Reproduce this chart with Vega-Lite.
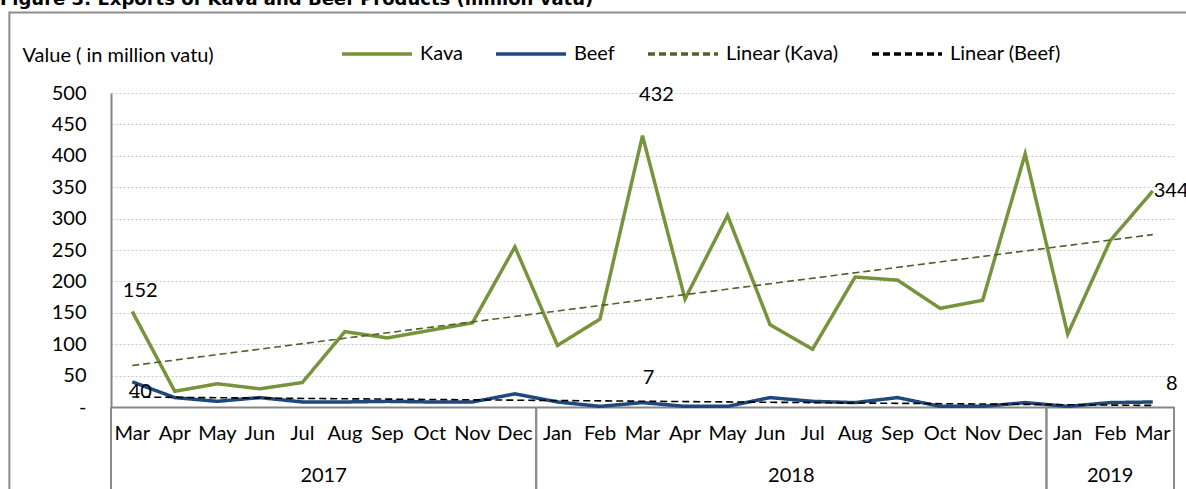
{
  "$schema": "https://vega.github.io/schema/vega-lite/v6.json",
  "autosize": "none",
  "width": 1063,
  "height": 314,
  "padding": {"left": 111, "top": 93, "right": 12, "bottom": 82},
  "background": "white",
  "title": {"text": "Figure 3: Exports of Kava and Beef Products (million vatu)", "anchor": "start", "frame": "group", "font": "DejaVu Sans", "fontWeight": "bold", "fontSize": 18, "color": "black", "dx": -111, "dy": 15, "baseline": "alphabetic"},
  "datasets": {
    "kv": [
      {"i": 0, "m": "Mar", "yr": "2017", "s": "Kava", "t": "Linear (Kava)", "v": 152},
      {"i": 1, "m": "Apr", "yr": "2017", "s": "Kava", "t": "Linear (Kava)", "v": 25},
      {"i": 2, "m": "May", "yr": "2017", "s": "Kava", "t": "Linear (Kava)", "v": 37},
      {"i": 3, "m": "Jun", "yr": "2017", "s": "Kava", "t": "Linear (Kava)", "v": 29},
      {"i": 4, "m": "Jul", "yr": "2017", "s": "Kava", "t": "Linear (Kava)", "v": 39},
      {"i": 5, "m": "Aug", "yr": "2017", "s": "Kava", "t": "Linear (Kava)", "v": 120},
      {"i": 6, "m": "Sep", "yr": "2017", "s": "Kava", "t": "Linear (Kava)", "v": 110},
      {"i": 7, "m": "Oct", "yr": "2017", "s": "Kava", "t": "Linear (Kava)", "v": 122},
      {"i": 8, "m": "Nov", "yr": "2017", "s": "Kava", "t": "Linear (Kava)", "v": 134},
      {"i": 9, "m": "Dec", "yr": "2017", "s": "Kava", "t": "Linear (Kava)", "v": 255},
      {"i": 10, "m": "Jan", "yr": "2018", "s": "Kava", "t": "Linear (Kava)", "v": 98},
      {"i": 11, "m": "Feb", "yr": "2018", "s": "Kava", "t": "Linear (Kava)", "v": 140},
      {"i": 12, "m": "Mar", "yr": "2018", "s": "Kava", "t": "Linear (Kava)", "v": 432},
      {"i": 13, "m": "Apr", "yr": "2018", "s": "Kava", "t": "Linear (Kava)", "v": 172},
      {"i": 14, "m": "May", "yr": "2018", "s": "Kava", "t": "Linear (Kava)", "v": 305},
      {"i": 15, "m": "Jun", "yr": "2018", "s": "Kava", "t": "Linear (Kava)", "v": 131},
      {"i": 16, "m": "Jul", "yr": "2018", "s": "Kava", "t": "Linear (Kava)", "v": 92},
      {"i": 17, "m": "Aug", "yr": "2018", "s": "Kava", "t": "Linear (Kava)", "v": 207},
      {"i": 18, "m": "Sep", "yr": "2018", "s": "Kava", "t": "Linear (Kava)", "v": 202},
      {"i": 19, "m": "Oct", "yr": "2018", "s": "Kava", "t": "Linear (Kava)", "v": 157},
      {"i": 20, "m": "Nov", "yr": "2018", "s": "Kava", "t": "Linear (Kava)", "v": 170},
      {"i": 21, "m": "Dec", "yr": "2018", "s": "Kava", "t": "Linear (Kava)", "v": 403},
      {"i": 22, "m": "Jan", "yr": "2019", "s": "Kava", "t": "Linear (Kava)", "v": 116},
      {"i": 23, "m": "Feb", "yr": "2019", "s": "Kava", "t": "Linear (Kava)", "v": 265},
      {"i": 24, "m": "Mar", "yr": "2019", "s": "Kava", "t": "Linear (Kava)", "v": 344},
      {"i": 0, "m": "Mar", "yr": "2017", "s": "Beef", "t": "Linear (Beef)", "v": 40},
      {"i": 1, "m": "Apr", "yr": "2017", "s": "Beef", "t": "Linear (Beef)", "v": 15},
      {"i": 2, "m": "May", "yr": "2017", "s": "Beef", "t": "Linear (Beef)", "v": 9},
      {"i": 3, "m": "Jun", "yr": "2017", "s": "Beef", "t": "Linear (Beef)", "v": 15},
      {"i": 4, "m": "Jul", "yr": "2017", "s": "Beef", "t": "Linear (Beef)", "v": 8},
      {"i": 5, "m": "Aug", "yr": "2017", "s": "Beef", "t": "Linear (Beef)", "v": 8},
      {"i": 6, "m": "Sep", "yr": "2017", "s": "Beef", "t": "Linear (Beef)", "v": 9},
      {"i": 7, "m": "Oct", "yr": "2017", "s": "Beef", "t": "Linear (Beef)", "v": 8},
      {"i": 8, "m": "Nov", "yr": "2017", "s": "Beef", "t": "Linear (Beef)", "v": 8},
      {"i": 9, "m": "Dec", "yr": "2017", "s": "Beef", "t": "Linear (Beef)", "v": 21},
      {"i": 10, "m": "Jan", "yr": "2018", "s": "Beef", "t": "Linear (Beef)", "v": 8},
      {"i": 11, "m": "Feb", "yr": "2018", "s": "Beef", "t": "Linear (Beef)", "v": 1},
      {"i": 12, "m": "Mar", "yr": "2018", "s": "Beef", "t": "Linear (Beef)", "v": 7},
      {"i": 13, "m": "Apr", "yr": "2018", "s": "Beef", "t": "Linear (Beef)", "v": 1},
      {"i": 14, "m": "May", "yr": "2018", "s": "Beef", "t": "Linear (Beef)", "v": 1},
      {"i": 15, "m": "Jun", "yr": "2018", "s": "Beef", "t": "Linear (Beef)", "v": 15},
      {"i": 16, "m": "Jul", "yr": "2018", "s": "Beef", "t": "Linear (Beef)", "v": 9},
      {"i": 17, "m": "Aug", "yr": "2018", "s": "Beef", "t": "Linear (Beef)", "v": 7},
      {"i": 18, "m": "Sep", "yr": "2018", "s": "Beef", "t": "Linear (Beef)", "v": 15},
      {"i": 19, "m": "Oct", "yr": "2018", "s": "Beef", "t": "Linear (Beef)", "v": 1},
      {"i": 20, "m": "Nov", "yr": "2018", "s": "Beef", "t": "Linear (Beef)", "v": 1},
      {"i": 21, "m": "Dec", "yr": "2018", "s": "Beef", "t": "Linear (Beef)", "v": 7},
      {"i": 22, "m": "Jan", "yr": "2019", "s": "Beef", "t": "Linear (Beef)", "v": 1},
      {"i": 23, "m": "Feb", "yr": "2019", "s": "Beef", "t": "Linear (Beef)", "v": 7},
      {"i": 24, "m": "Mar", "yr": "2019", "s": "Beef", "t": "Linear (Beef)", "v": 8}
    ]
  },
  "data": {"name": "kv"},
  "layer": [
    {
      "mark": {"type": "line", "strokeWidth": 3.5},
      "encoding": {
        "x": {"field": "i", "type": "quantitative", "scale": {"domain": [-0.5, 24.5], "nice": false, "zero": false}, "axis": {"labels": false, "ticks": false, "grid": false, "domain": true, "domainColor": "#868686", "domainWidth": 2, "title": null}},
        "y": {"field": "v", "type": "quantitative", "scale": {"domain": [0, 500], "nice": false, "zero": true},
          "axis": {"values": [0, 50, 100, 150, 200, 250, 300, 350, 400, 450, 500], "tickCount": 20, "labelOverlap": false, "labelSeparation": 0, "labelExpr": "datum.value == 0 ? '-' : datum.label", "title": "Value ( in million vatu)", "titleAngle": 0, "titleAlign": "left", "titleBaseline": "alphabetic", "titleX": -89, "titleY": -32, "titleFont": "Lato", "titleFontSize": 20, "titleFontWeight": "normal", "titleColor": "black", "labelFont": "Lato", "labelFontSize": 20, "labelColor": "black", "labelPadding": 25, "ticks": false, "domainColor": "#868686", "domainWidth": 2, "grid": true, "gridColor": "#C8C8C8", "gridDash": [2, 2], "gridWidth": 1}},
        "color": {"field": "s", "type": "nominal", "scale": {"domain": ["Kava", "Beef", "Linear (Kava)", "Linear (Beef)"], "range": ["#77933C", "#1F497D", "#4F6228", "#000000"]}, "legend": {"title": null}},
        "strokeDash": {"field": "s", "type": "nominal", "scale": {"domain": ["Kava", "Beef", "Linear (Kava)", "Linear (Beef)"], "range": [[1, 0], [1, 0], [7, 4], [7, 4]]}, "legend": {"title": null}}
      }
    },
    {
      "data": {"values": [{}]},
      "mark": {"type": "rect", "fillOpacity": 0, "stroke": "#8C8C8C", "strokeWidth": 2},
      "encoding": {
        "x": {"datum": -2.89, "type": "quantitative"},
        "x2": {"datum": 27},
        "y": {"datum": 628, "type": "quantitative"},
        "y2": {"datum": -200}
      }
    },
    {
      "transform": [
        {"filter": "datum.s == 'Kava'"},
        {"aggregate": [{"op": "min", "field": "i", "as": "lo"}, {"op": "max", "field": "i", "as": "hi"}], "groupby": ["yr"]},
        {"calculate": "datum.lo - 0.5", "as": "a"},
        {"calculate": "datum.hi + 0.5", "as": "b"},
        {"fold": ["a", "b"], "as": ["k", "edge"]}
      ],
      "mark": {"type": "rule", "color": "#8C8C8C", "strokeWidth": 2},
      "encoding": {
        "x": {"field": "edge", "type": "quantitative"},
        "y": {"datum": 0, "type": "quantitative"},
        "y2": {"datum": -140}
      }
    },
    {
      "transform": [
        {"filter": "datum.s == 'Kava'"},
        {"aggregate": [{"op": "mean", "field": "i", "as": "c"}], "groupby": ["yr"]}
      ],
      "mark": {"type": "text", "font": "Lato", "fontSize": 20, "color": "black", "baseline": "middle"},
      "encoding": {
        "x": {"field": "c", "type": "quantitative"},
        "y": {"datum": -110, "type": "quantitative"},
        "text": {"field": "yr"}
      }
    },
    {
      "transform": [{"filter": "datum.s == 'Kava'"}],
      "mark": {"type": "text", "font": "Lato", "fontSize": 20, "color": "black", "baseline": "middle"},
      "encoding": {
        "x": {"field": "i", "type": "quantitative"},
        "y": {"datum": -43, "type": "quantitative"},
        "text": {"field": "m"}
      }
    },
    {
      "transform": [{"regression": "v", "on": "i", "groupby": ["t"]}],
      "mark": {"type": "line", "strokeWidth": 1.6},
      "encoding": {
        "x": {"field": "i", "type": "quantitative"},
        "y": {"field": "v", "type": "quantitative"},
        "color": {"field": "t", "type": "nominal", "legend": {"title": null}},
        "strokeDash": {"field": "t", "type": "nominal", "legend": {"title": null}}
      }
    },
    {
      "transform": [{"filter": "datum.s == 'Kava' && datum.i == 0"}],
      "mark": {"type": "text", "font": "Lato", "fontSize": 20, "color": "black", "dx": 8, "dy": -21, "baseline": "middle"},
      "encoding": {"x": {"field": "i", "type": "quantitative"}, "y": {"field": "v", "type": "quantitative"}, "text": {"field": "v"}}
    },
    {
      "transform": [{"filter": "datum.s == 'Beef' && datum.i == 0"}],
      "mark": {"type": "text", "font": "Lato", "fontSize": 20, "color": "black", "dx": 8, "dy": 10, "baseline": "middle"},
      "encoding": {"x": {"field": "i", "type": "quantitative"}, "y": {"field": "v", "type": "quantitative"}, "text": {"field": "v"}}
    },
    {
      "transform": [{"filter": "datum.s == 'Kava' && datum.i == 12"}],
      "mark": {"type": "text", "font": "Lato", "fontSize": 20, "color": "black", "dx": 14, "dy": -41, "baseline": "middle"},
      "encoding": {"x": {"field": "i", "type": "quantitative"}, "y": {"field": "v", "type": "quantitative"}, "text": {"field": "v"}}
    },
    {
      "transform": [{"filter": "datum.s == 'Beef' && datum.i == 12"}],
      "mark": {"type": "text", "font": "Lato", "fontSize": 20, "color": "black", "dx": 6, "dy": -25, "baseline": "middle"},
      "encoding": {"x": {"field": "i", "type": "quantitative"}, "y": {"field": "v", "type": "quantitative"}, "text": {"field": "v"}}
    },
    {
      "transform": [{"filter": "datum.s == 'Kava' && datum.i == 24"}],
      "mark": {"type": "text", "font": "Lato", "fontSize": 20, "color": "black", "dx": 1, "dy": 0, "align": "left", "baseline": "middle"},
      "encoding": {"x": {"field": "i", "type": "quantitative"}, "y": {"field": "v", "type": "quantitative"}, "text": {"field": "v"}}
    },
    {
      "transform": [{"filter": "datum.s == 'Beef' && datum.i == 24"}],
      "mark": {"type": "text", "font": "Lato", "fontSize": 20, "color": "black", "dx": 19, "dy": -18, "baseline": "middle"},
      "encoding": {"x": {"field": "i", "type": "quantitative"}, "y": {"field": "v", "type": "quantitative"}, "text": {"field": "v"}}
    }
  ],
  "config": {
    "view": {"stroke": null},
    "font": "Lato",
    "axisY": {"labelOverlap": false, "labelSeparation": 0, "labelFontSize": 20, "labelFont": "Lato"},
    "legend": {"orient": "none", "direction": "horizontal", "legendX": 229, "legendY": -76, "symbolType": "stroke", "symbolSize": 4900, "labelFont": "Lato", "labelFontSize": 20, "labelColor": "black", "labelOffset": 6, "columnPadding": 26, "padding": 0, "symbolStrokeWidth": 3.5,
      "encode": {"symbols": {"update": {"strokeWidth": {"signal": "indexof(datum.label, 'Linear') == 0 ? 1.6 : 3.5"}}}}}
  }
}
